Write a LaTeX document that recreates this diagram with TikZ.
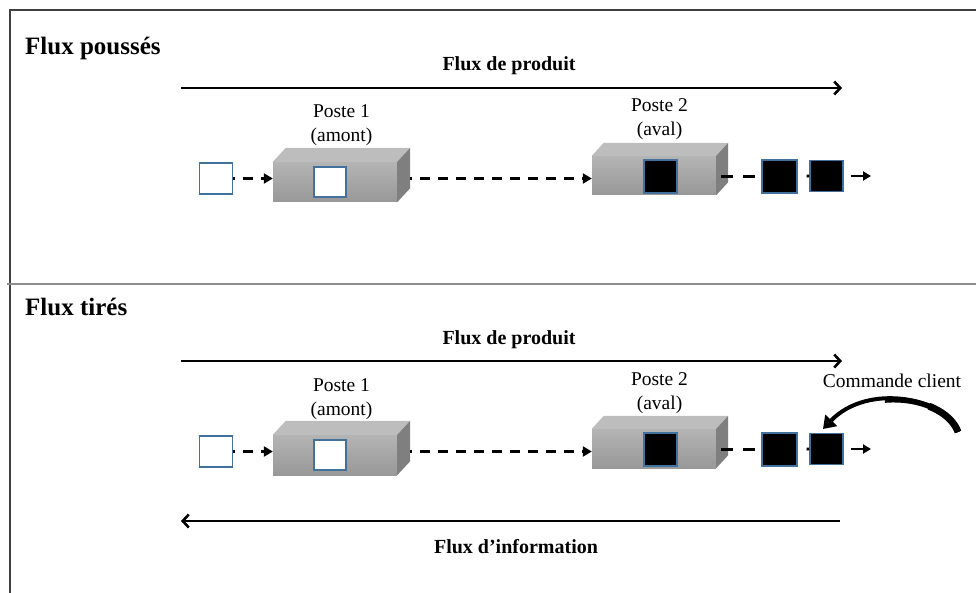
\documentclass[tikz,border=0pt]{standalone}
\usepackage{fontspec}
\setmainfont{Liberation Serif}
\usetikzlibrary{arrows.meta,calc}
\definecolor{framecol}{HTML}{404040}
\definecolor{divcol}{HTML}{8C8C8C}
\definecolor{sqedge}{HTML}{41719C}
\definecolor{topface}{HTML}{BDBDBD}
\definecolor{sideface}{HTML}{7F7F7F}
\definecolor{fronttop}{HTML}{B4B4B4}
\definecolor{frontbot}{HTML}{989898}
\tikzset{
  frameline/.style={draw=framecol,line width=1.5},
  divline/.style={draw=divcol,line width=1.5},
  title/.style={font=\fontsize{25}{30}\selectfont\bfseries,anchor=base west,inner sep=0},
  flowlabel/.style={font=\fontsize{20}{24}\selectfont\bfseries,anchor=base,inner sep=0},
  postelabel/.style={font=\fontsize{19.5}{24.5}\selectfont,anchor=base,inner sep=0},
  flowarrow/.style={line width=2.6,-{Straight Barb[length=6,width=13,line width=2.6]}},
  dashconn/.style={line width=2.8,dash pattern=on 10 off 8,dash phase=8},
  dasharrow/.style={dashconn,-{Triangle[length=9,width=10]}},
  gapdash/.style={line width=2.8,dash pattern=on 5 off 9,dash phase=5},
  taildash/.style={line width=2.8,dash pattern=on 12 off 10},
  tailarrow/.style={line width=2.6,dash pattern=on 30 off 7,dash phase=30,-{Triangle[length=8,width=9]}},
  frontface/.style={rectangle,inner sep=0,top color=fronttop,bottom color=frontbot,draw=none},
  whitesq/.style={rectangle,draw=sqedge,line width=1.3,fill=white,inner sep=0},
  blacksq/.style={rectangle,draw=sqedge,line width=1.3,fill=black,inner sep=0},
}
\newcommand{\boxfaces}[3]{%
  \fill[topface] (#1.north west) -- ++(#2,-#3) -- ($(#1.north east)+(#2,-#3)$) -- (#1.north east) -- cycle;
  \fill[sideface] (#1.north east) -- ++(#2,-#3) -- ($(#1.south east)+(#2,-#3)$) -- (#1.south east) -- cycle;
}
\begin{document}
\begin{tikzpicture}[x=1pt,y=-1pt]
\useasboundingbox (0,0) rectangle (976,593);
% frame
\draw[frameline] (10,593) -- (10,10) -- (976,10);
\draw[divline] (7,284) -- (976,284);

% ================= top panel: flux pousses
\node[title] (t1) at (25,55) {Flux poussés};
\node[flowlabel] (fp1) at (509,71) {Flux de produit};
\coordinate (fa1s) at (181,88);
\coordinate (fa1e) at (842,88);
\draw[flowarrow] (fa1s) -- (fa1e);

\node[postelabel] (p1a) at (341.5,118) {Poste 1};
\node[postelabel] (p1a2) at (341.5,142) {(amont)};
\node[postelabel] (p2a) at (659.5,112) {Poste 2};
\node[postelabel] (p2a2) at (659.5,136) {(aval)};

\node[frontface,minimum width=124,minimum height=40] (b1a) at (335,182) {};
\boxfaces{b1a}{13}{14}
\node[frontface,minimum width=124,minimum height=39] (b2a) at (654,175.5) {};
\boxfaces{b2a}{12}{13}

\node[whitesq,minimum width=33,minimum height=31] (ina) at (216,178.5) {};
\node[whitesq,minimum width=32,minimum height=30] (w1a) at (330,182) {};
\node[blacksq,minimum width=33,minimum height=33] (k2a) at (660.5,176.5) {};
\node[blacksq,minimum width=35,minimum height=33] (o1a) at (779.5,176.5) {};
\node[blacksq,minimum width=33,minimum height=31] (o2a) at (826.5,176) {};
\coordinate (enda) at (871,176);

\draw[dasharrow] (ina.east) -- (ina.east -| b1a.west);
\draw[dasharrow] ([xshift=13]b1a.east |- ina.east) -- (ina.east -| b2a.west);
\draw[taildash] ([xshift=5]b2a.east |- o1a.west) -- (o1a.west);
\draw[gapdash] (o1a.east) -- (o2a.west);
\draw[tailarrow] (o2a.east) -- (enda);

% ================= bottom panel: flux tires
\node[title] (t2) at (25,315) {Flux tirés};
\node[flowlabel] (fp2) at (509,344) {Flux de produit};
\coordinate (fa2s) at (181,361);
\coordinate (fa2e) at (842,361);
\draw[flowarrow] (fa2s) -- (fa2e);

\node[postelabel] (p1b) at (341.5,391) {Poste 1};
\node[postelabel] (p1b2) at (341.5,415) {(amont)};
\node[postelabel] (p2b) at (659.5,385) {Poste 2};
\node[postelabel] (p2b2) at (659.5,409) {(aval)};
\node[postelabel] (cc) at (892,387) {Commande client};

\node[frontface,minimum width=124,minimum height=40] (b1b) at (335,455) {};
\boxfaces{b1b}{13}{14}
\node[frontface,minimum width=124,minimum height=39] (b2b) at (654,448.5) {};
\boxfaces{b2b}{12}{13}

\node[whitesq,minimum width=33,minimum height=31] (inb) at (216,451.5) {};
\node[whitesq,minimum width=32,minimum height=30] (w1b) at (330,455) {};
\node[blacksq,minimum width=33,minimum height=33] (k2b) at (660.5,449.5) {};
\node[blacksq,minimum width=35,minimum height=33] (o1b) at (779.5,449.5) {};
\node[blacksq,minimum width=33,minimum height=31] (o2b) at (826.5,449) {};
\coordinate (endb) at (871,449);

\draw[dasharrow] (inb.east) -- (inb.east -| b1b.west);
\draw[dasharrow] ([xshift=13]b1b.east |- inb.east) -- (inb.east -| b2b.west);
\draw[taildash] ([xshift=5]b2b.east |- o1b.west) -- (o1b.west);
\draw[gapdash] (o1b.east) -- (o2b.west);
\draw[tailarrow] (o2b.east) -- (endb);

% customer order curved arrow
\coordinate (ccs) at (958,432);
\coordinate (cce) at (823,429);
\draw[line width=7,dash pattern=on 40 off 400] (ccs) .. controls (946,398) and (868,382) .. (cce);
\draw[line width=5.5,dash pattern=on 85 off 400] (ccs) .. controls (946,398) and (868,382) .. (cce);
\draw[line width=4,-{Triangle[length=12,width=16]}] (ccs) .. controls (946,398) and (868,382) .. (cce);

% information flow
\coordinate (ia1) at (840,521);
\coordinate (ia2) at (181,521);
\draw[flowarrow] (ia1) -- (ia2);
\node[flowlabel] (fi) at (516,553) {Flux d’information};
\end{tikzpicture}
\end{document}
